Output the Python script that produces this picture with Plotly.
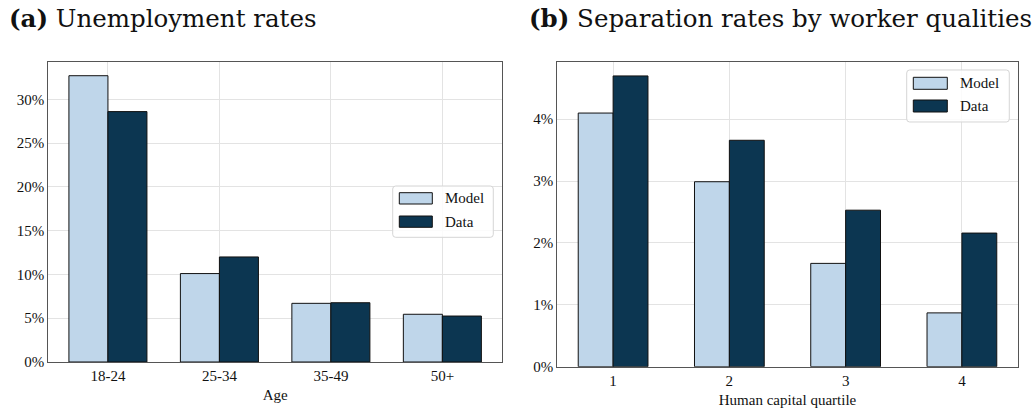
import plotly.graph_objects as go

# ---------------- data ----------------
age_groups = ["18-24", "25-34", "35-49", "50+"]
unemp_model = [32.7, 10.1, 6.7, 5.45]
unemp_data = [28.6, 12.0, 6.77, 5.25]

quartiles = ["1", "2", "3", "4"]
sep_model = [4.10, 2.99, 1.67, 0.87]
sep_data = [4.70, 3.66, 2.53, 2.16]

series_names = ["Model", "Data"]
unemp_ticks = [0, 5, 10, 15, 20, 25, 30]
sep_ticks = [0, 1, 2, 3, 4]

# ---------------- style ----------------
W, H = 1032, 410
FONT = "Liberation Serif"
TITLE_FONT = "DejaVu Serif"
C_MODEL = "#BFD6EA"
C_DATA = "#0C3651"
EDGE = "#111111"
FRAME = "#555555"
GRID = "#E3E3E3"


def px(x, y):
    """page pixel -> paper coordinates"""
    return x / W, 1 - y / H


def xdom(a, b):
    return [px(a, 0)[0], px(b, 0)[0]]


def ydom(top, bottom):
    return [px(0, bottom)[1], px(0, top)[1]]


fig = go.Figure()

# panel (a)
fig.add_trace(go.Bar(x=age_groups, y=unemp_model, name=series_names[0], width=0.35, offset=-0.35,
                     marker=dict(color=C_MODEL, line=dict(color=EDGE, width=1)),
                     xaxis="x", yaxis="y", showlegend=False))
fig.add_trace(go.Bar(x=age_groups, y=unemp_data, name=series_names[1], width=0.35, offset=0,
                     marker=dict(color=C_DATA, line=dict(color=EDGE, width=1)),
                     xaxis="x", yaxis="y", showlegend=False))
# panel (b)
fig.add_trace(go.Bar(x=quartiles, y=sep_model, name=series_names[0], width=0.30, offset=-0.30,
                     marker=dict(color=C_MODEL, line=dict(color=EDGE, width=1)),
                     xaxis="x2", yaxis="y2", showlegend=False))
fig.add_trace(go.Bar(x=quartiles, y=sep_data, name=series_names[1], width=0.30, offset=0,
                     marker=dict(color=C_DATA, line=dict(color=EDGE, width=1)),
                     xaxis="x2", yaxis="y2", showlegend=False))

axis_common = dict(showline=True, mirror=True, linecolor=FRAME, linewidth=1.3,
                   showgrid=True, gridcolor=GRID, gridwidth=1, zeroline=False,
                   automargin=False,
                   ticks="", tickfont=dict(family=FONT, size=15, color="#111"))

fig.update_layout(
    width=W, height=H,
    margin=dict(l=0, r=0, t=0, b=0, pad=0),
    paper_bgcolor="white", plot_bgcolor="white",
    font=dict(family=FONT, color="#111"),
    barmode="overlay",
    xaxis=dict(domain=xdom(48.3, 502.0), anchor="y", type="category",
               range=[-0.535, 3.535],
               title=dict(text="Age", font=dict(family=FONT, size=15), standoff=6),
               **axis_common),
    yaxis=dict(domain=ydom(61.7, 362.0), anchor="x",
               range=[0, 34.3], tickmode="array", tickvals=unemp_ticks,
               ticktext=[f"{v}%" for v in unemp_ticks],
               **axis_common),
    xaxis2=dict(domain=xdom(557.3, 1017.7), anchor="y2", type="category",
                range=[-0.48, 3.48],
                title=dict(text="Human capital quartile", font=dict(family=FONT, size=15), standoff=6),
                **axis_common),
    yaxis2=dict(domain=ydom(61.7, 366.7), anchor="x2",
                range=[0, 4.93], tickmode="array", tickvals=sep_ticks,
                ticktext=[f"{v}%" for v in sep_ticks],
                **axis_common),
)

# titles
for xpos, txt in [(7, "<b>(a)</b> Unemployment rates"),
                  (527, "<b>(b)</b> Separation rates by worker qualities")]:
    x0, y0 = px(xpos, 18)
    fig.add_annotation(x=x0, y=y0, xref="paper", yref="paper", xanchor="left", yanchor="middle",
                       text=txt, showarrow=False,
                       font=dict(family=TITLE_FONT, size=24.5, color="#111"))


# custom legends
def rounded_box(x0, y0, x1, y1, r=3):
    def P(x, y):
        a, b = px(x, y)
        return f"{a:.5f},{b:.5f}"
    return (f"M {P(x0 + r, y0)} L {P(x1 - r, y0)} Q {P(x1, y0)} {P(x1, y0 + r)} "
            f"L {P(x1, y1 - r)} Q {P(x1, y1)} {P(x1 - r, y1)} L {P(x0 + r, y1)} "
            f"Q {P(x0, y1)} {P(x0, y1 - r)} L {P(x0, y0 + r)} Q {P(x0, y0)} {P(x0 + r, y0)} Z")


def add_legend(bx0, by0, bx1, by1, patch_x0, patch_x1, rows, text_x):
    fig.add_shape(type="path", path=rounded_box(bx0, by0, bx1, by1), xref="paper", yref="paper",
                  line=dict(color="#D5D5D5", width=1), fillcolor="rgba(255,255,255,0.85)")
    for (ty0, ty1), color, name in zip(rows, [C_MODEL, C_DATA], series_names):
        a0, b0 = px(patch_x0, ty0)
        a1, b1 = px(patch_x1, ty1)
        fig.add_shape(type="rect", x0=a0, x1=a1, y0=b1, y1=b0, xref="paper", yref="paper",
                      line=dict(color=EDGE, width=1), fillcolor=color)
        tx, tyc = px(text_x, (ty0 + ty1) / 2)
        fig.add_annotation(x=tx, y=tyc, xref="paper", yref="paper", xanchor="left", yanchor="middle",
                           text=name, showarrow=False, font=dict(family=FONT, size=15, color="#111"))


add_legend(392.7, 186, 493.3, 237.3, 399.3, 432.3, [(192.7, 204), (216, 227.3)], 443)
add_legend(906.7, 70, 1009.3, 122, 913.3, 947.3, [(77.3, 89.3), (100, 112)], 958)

fig.write_html("out.html", config={"displayModeBar": False},
               post_script="document.body.style.margin='0';")
